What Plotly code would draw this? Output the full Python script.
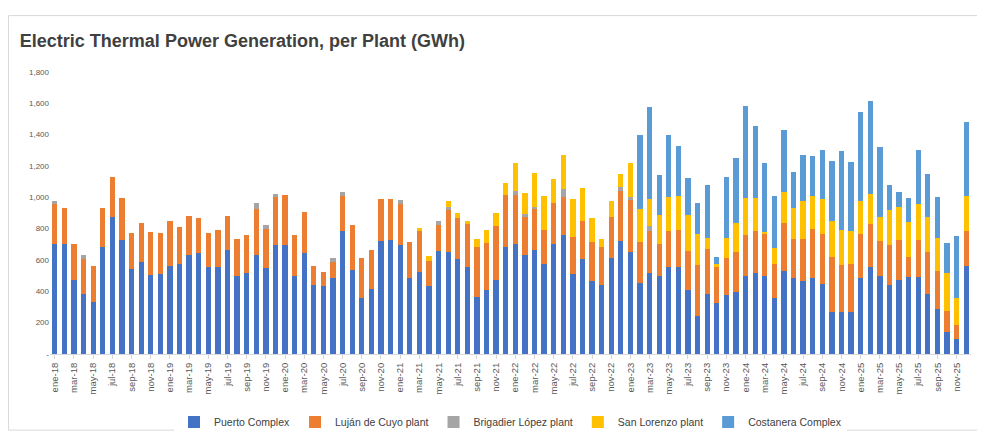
import plotly.graph_objects as go

########## data (cumulative stack tops in GWh) ##########
meses = ["ene", "feb", "mar", "abr", "may", "jun", "jul", "ago", "sep", "oct", "nov", "dic"]
months = [f"{m}-{y}" for y in range(18, 26) for m in meses]

puerto = [700, 700, 473, 382, 331, 686, 875, 727, 544, 585, 503, 510,
          564, 575, 635, 646, 554, 558, 666, 497, 514, 635, 552, 696,
          696, 497, 646, 443, 436, 487, 788, 538, 357, 412, 723, 727,
          696, 483, 524, 432, 656, 650, 609, 558, 367, 406, 473, 680,
          700, 631, 662, 575, 700, 757, 510, 609, 469, 443, 611, 723,
          650, 453, 514, 497, 554, 558, 406, 240, 380, 325, 376, 398,
          495, 514, 499, 357, 530, 483, 463, 483, 447, 270, 270, 270,
          483, 556, 499, 438, 473, 493, 489, 386, 290, 142, 97, 560]

lujan_top = [960, 934, 700, 609, 564, 930, 1133, 997, 773, 834, 777, 773,
             849, 808, 879, 865, 771, 794, 879, 737, 757, 926, 798, 1003,
             1015, 757, 907, 564, 524, 585, 1011, 824, 615, 662, 991, 991,
             960, 713, 788, 591, 824, 920, 869, 828, 680, 710, 814, 1017,
             1017, 875, 926, 794, 966, 1005, 747, 849, 717, 680, 875, 1041,
             980, 717, 788, 702, 786, 792, 660, 568, 672, 558, 615, 650,
             757, 784, 771, 575, 838, 731, 731, 798, 763, 621, 568, 575,
             767, 832, 723, 696, 727, 619, 727, 650, 528, 276, 183, 788]

# months (1-based) where the Brigadier López segment is visible -> stack top
brigadier_top = {1: 976, 4: 635, 22: 964, 23: 824, 24: 1023, 30: 611, 31: 1035,
                 37: 980, 41: 849, 42: 940, 49: 1041, 50: 895, 51: 940, 54: 1052,
                 60: 1068, 61: 1001, 63: 814}

san_lorenzo_top = {39: 804, 40: 625, 42: 974, 43: 899, 44: 849, 45: 731, 46: 792,
                   47: 901, 48: 1092, 49: 1220, 50: 1027, 51: 1153, 52: 1007,
                   53: 1119, 54: 1271, 55: 987, 56: 1058, 57: 865, 58: 733, 59: 977,
                   60: 1147, 61: 1222, 62: 924, 63: 991}
sl_late = [889, 1001, 1007, 889, 763, 743, 572, 743, 836, 995, 995, 777, 678, 1031,
           930, 977, 1011, 991, 849, 794, 788, 974, 1019, 875, 920, 938, 845, 956,
           875, 741, 514, 357, 1007]
for i, v in enumerate(sl_late):
    san_lorenzo_top[64 + i] = v

costanera_top = [1397, 1575, 1141, 1397, 1330, 1124, 963, 1076, 619, 1129, 1248,
                 1585, 1458, 1222, 1011, 1427, 1161, 1269, 1263, 1299, 1234, 1295,
                 1228, 1543, 1614, 1324, 1078, 1031, 995, 1305, 1149, 1001, 711, 751, 1484]

y_ticks = [0, 200, 400, 600, 800, 1000, 1200, 1400, 1600, 1800]
y_labels = ["-", "200", "400", "600", "800", "1,000", "1,200", "1,400", "1,600", "1,800"]

########## segments from the stack tops ##########
lujan, brig, slor, cost = [], [], [], []
for i in range(96):
    k = i + 1
    t1 = puerto[i]
    t2 = lujan_top[i]
    t3 = brigadier_top.get(k, t2)
    t4 = san_lorenzo_top.get(k, t3)
    t5 = costanera_top[k - 62] if k >= 62 else t4
    lujan.append(t2 - t1)
    brig.append(t3 - t2)
    slor.append(t4 - t3)
    cost.append(t5 - t4)

series = [("Puerto Complex", puerto, "#4472C4"),
          ("Luján de Cuyo plant", lujan, "#ED7D31"),
          ("Brigadier López plant", brig, "#A5A5A5"),
          ("San Lorenzo plant", slor, "#FFC000"),
          ("Costanera Complex", cost, "#5B9BD5")]

fig = go.Figure()
for nom, vals, col in series:
    fig.add_trace(go.Bar(x=months, y=vals, name=nom, marker_color=col, marker_line_width=0))

fig.update_layout(
    width=985, height=440,
    barmode="stack", bargap=0.45,
    plot_bgcolor="white", paper_bgcolor="white",
    margin=dict(l=42, r=22, t=64, b=81),
    title=dict(text="<b>Electric Thermal Power Generation, per Plant (GWh)</b>",
               x=0.012, y=0.925, xanchor="left", yanchor="middle",
               font=dict(family="Liberation Sans", size=18, color="#404040")),
    font=dict(family="Liberation Sans", size=9, color="#595959"),
    xaxis=dict(tickmode="array", tickvals=months[::2], tickangle=-90, automargin=False,
               showline=True, linecolor="#D9D9D9", ticks="outside",
               tickcolor="#D9D9D9", ticklen=4, tickfont=dict(size=9.5)),
    yaxis=dict(range=[0, 1800], tickvals=y_ticks, ticktext=y_labels, showgrid=False,
               zeroline=False, automargin=False, tickfont=dict(size=8)),
    legend=dict(orientation="h", traceorder="normal", x=0.5, xanchor="center",
                y=-0.19, yanchor="top", font=dict(size=10.5, color="#404040")),
)
fig.add_shape(type="rect", xref="paper", yref="paper", x0=-0.045, x1=1.02,
              y0=-0.27, y1=1.2, line=dict(color="#D9D9D9", width=1))
fig.write_html("out.html")
